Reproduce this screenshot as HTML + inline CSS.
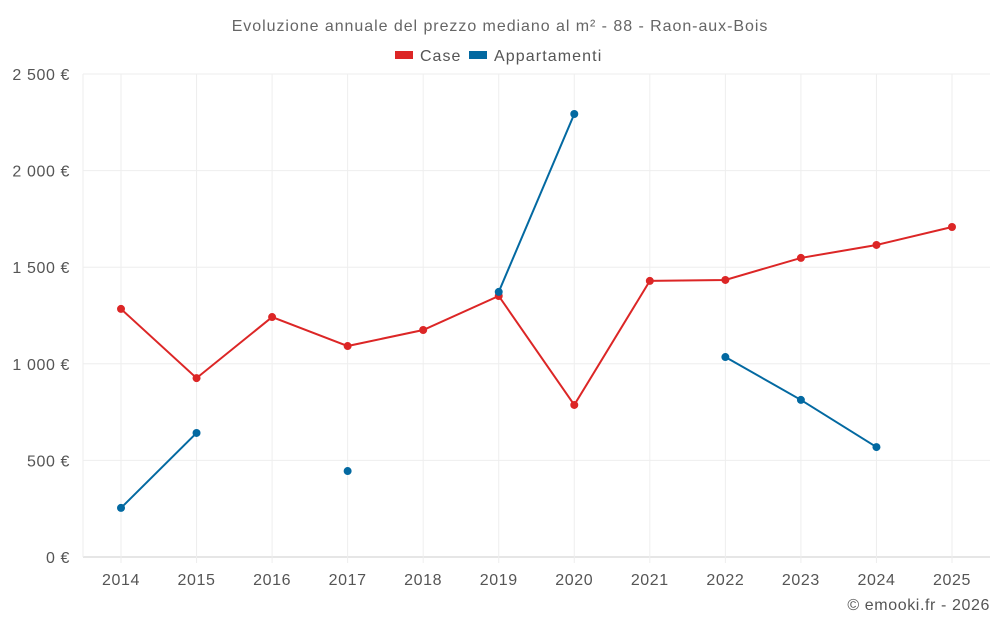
<!DOCTYPE html>
<html><head><meta charset="utf-8"><style>
body{margin:0;background:#fff;font-family:"Liberation Sans",sans-serif;}
svg text{font-family:"Liberation Sans",sans-serif;}
</style></head><body>
<svg id="chart" width="1000" height="625">
<text x="500" y="31" text-anchor="middle" font-size="16" letter-spacing="0.95" fill="#666">Evoluzione annuale del prezzo mediano al m² - 88 - Raon-aux-Bois</text>
<g><rect x="395" y="51" width="18" height="8" fill="#dc2626"/><text x="420" y="61" font-size="16" letter-spacing="1" fill="#555">Case</text></g>
<g><rect x="469" y="51" width="18" height="8" fill="#0369a1"/><text x="494" y="61" font-size="16" letter-spacing="1.1" fill="#555">Appartamenti</text></g>
<g id="grid"></g><g id="series"></g>
<text x="990" y="610" text-anchor="end" font-size="16" letter-spacing="0.6" fill="#555">© emooki.fr - 2026</text>
</svg>
<script>
const years=[2014,2015,2016,2017,2018,2019,2020,2021,2022,2023,2024,2025];
const caseValues=[1284,926,1242,1092,1175,1351,787,1429,1434,1548,1615,1708];
const apptValues=[254,642,null,445,null,1372,2293,null,1035,813,569,null];
const yTicks=[0,500,1000,1500,2000,2500];
const yTickLabels=["0 €","500 €","1 000 €","1 500 €","2 000 €","2 500 €"];
const NS="http://www.w3.org/2000/svg";
const L=83,R=990,T=74,B=557;
const x=i=>121+i*(952-121)/(years.length-1);
const y=v=>B-(v/2500)*(B-T);
const grid=document.getElementById('grid'),ser=document.getElementById('series');
function mk(tag,a,p){const e=document.createElementNS(NS,tag);for(const k in a)e.setAttribute(k,a[k]);p.appendChild(e);return e;}
yTicks.forEach((t,i)=>{
 const l=mk('line',{x1:L,x2:R,y1:y(t),y2:y(t),stroke:i==0?'#ccc':'#eee'},grid);
 
 
 const tx=mk('text',{x:70,y:y(t)+6,'text-anchor':'end','font-size':16,'letter-spacing':0.6,fill:'#555'},grid);tx.textContent=yTickLabels[i];
 
 
});
mk('line',{x1:L,x2:L,y1:T,y2:B,stroke:'#eee'},grid);
years.forEach((yr,i)=>{
 const l=mk('line',{x1:x(i),x2:x(i),y1:T,y2:B+6,stroke:'#eee'},grid);
 
 
 const tx=mk('text',{x:x(i),y:585,'text-anchor':'middle','font-size':16,'letter-spacing':0.6,fill:'#555'},grid);tx.textContent=yr;
 
 
});
function draw(vals,color,name){
 let seg=[];
 const flush=()=>{if(seg.length>1){const p=mk('polyline',{points:seg.join(' '),fill:'none',stroke:color,'stroke-width':2},ser);
  
  }seg=[];};
 vals.forEach((v,i)=>{if(v==null){flush();return;}seg.push(x(i)+','+y(v));});flush();
 vals.forEach((v,i)=>{if(v==null)return;const c=mk('circle',{cx:x(i),cy:y(v),r:4,fill:color},ser);
  
  });
}
draw(caseValues,'#dc2626','case');
draw(apptValues,'#0369a1','appartamenti');
</script>
</body></html>
